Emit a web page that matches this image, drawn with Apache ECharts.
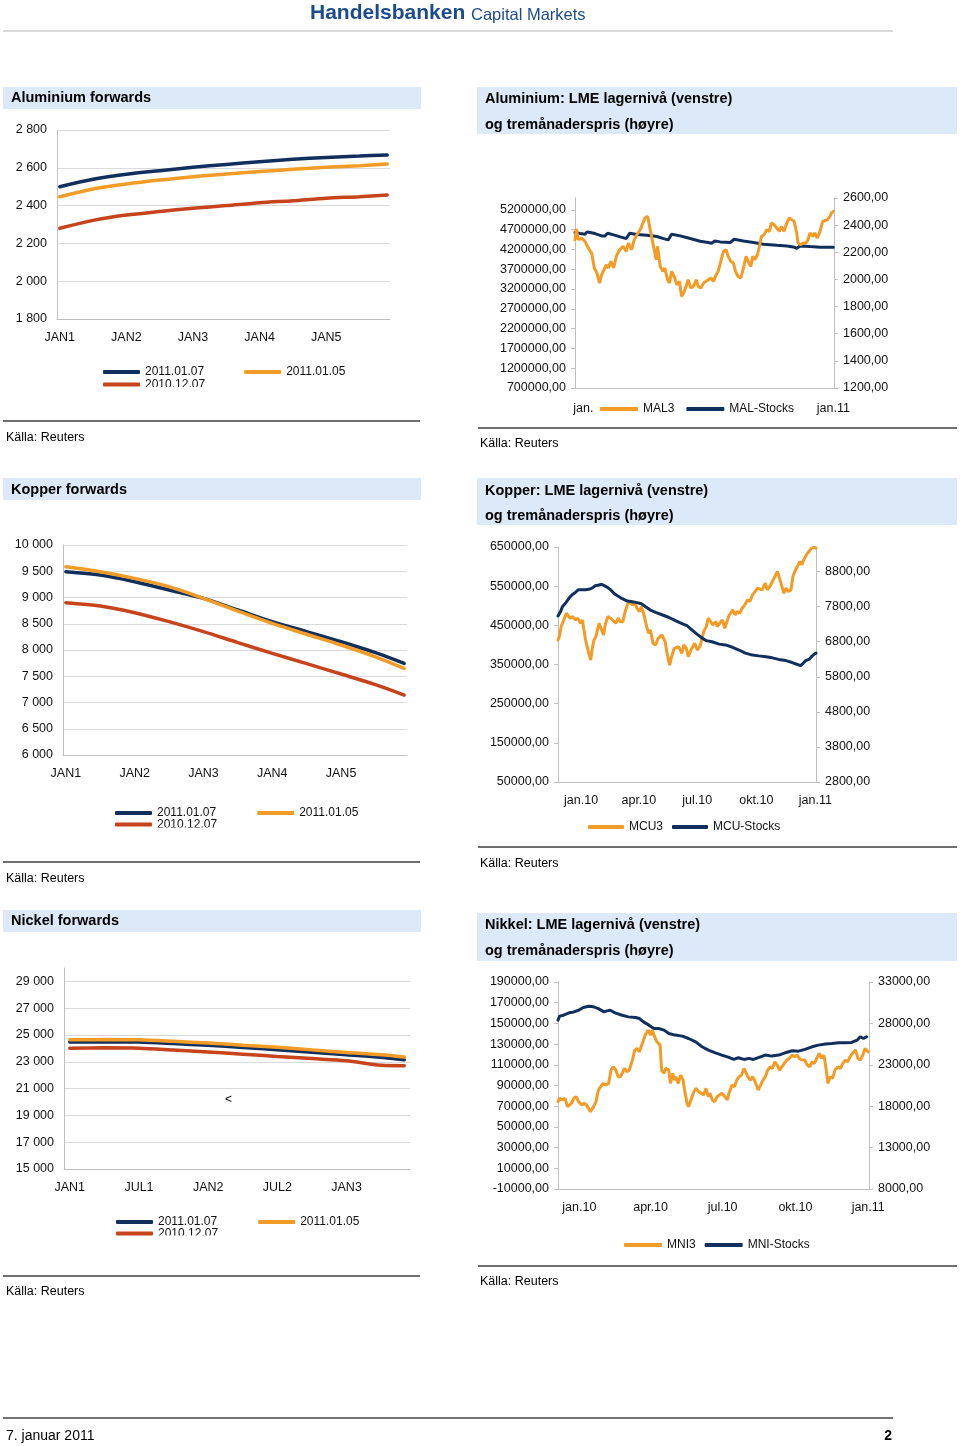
<!DOCTYPE html>
<html><head><meta charset="utf-8">
<script src="https://cdn.jsdelivr.net/npm/echarts@6/dist/echarts.min.js"></script>
<style>html,body{margin:0;padding:0;background:#fff}#c{width:960px;height:1446px}</style>
</head><body><div id="c"></div><script>
// ---------- DATA ----------
// Forward curves: [month index from JAN1, USD/t]
const alFwd0107 = [[0,2500],[6,2539],[12,2566],[18,2585],[24,2603],[30,2618],[36,2632],[42,2645],[48,2655],[54,2662],[59,2668]];
const alFwd0105 = [[0,2447],[6,2488],[12,2514],[18,2535],[24,2553],[30,2567],[36,2580],[42,2592],[48,2603],[54,2611],[59,2620]];
const alFwd1207 = [[0,2280],[6,2322],[12,2350],[18,2369],[24,2386],[30,2400],[36,2415],[42,2426],[48,2439],[54,2447],[59,2456]];

const cuFwd0107 = [[0,9492],[6,9428],[12,9301],[18,9143],[24,8984],[30,8762],[36,8539],[42,8350],[48,8158],[54,7950],[59,7746]];
const cuFwd0105 = [[0,9587],[6,9492],[12,9365],[18,9206],[24,8984],[30,8740],[36,8508],[42,8300],[48,8095],[54,7870],[59,7650]];
const cuFwd1207 = [[0,8901],[6,8838],[12,8711],[18,8540],[24,8349],[30,8140],[36,7936],[42,7740],[48,7542],[54,7340],[59,7142]];

const niFwd0107 = [[0,24470],[3,24490],[6,24470],[9,24360],[12,24230],[15,24070],[18,23900],[21,23720],[24,23530],[27,23340],[29,23150]];
const niFwd0105 = [[0,24640],[3,24660],[6,24640],[9,24530],[12,24400],[15,24240],[18,24080],[21,23890],[24,23700],[27,23520],[29,23350]];
const niFwd1207 = [[0,24020],[3,24040],[6,24020],[9,23880],[12,23730],[15,23570],[18,23400],[21,23240],[24,23080],[27,22740],[29,22710]];

// LME series: [days from 2010-01-01, value]
const mal3 = [[-23,2293],[-21,2371],[-18,2293],[-13,2305],[-8,2280],[-3,2231],[2,2194],[6,2084],[10,2047],[14,1973],[17,2035],[20,2022],[24,2108],[27,2084],[31,2133],[35,2084],[39,2170],[44,2219],[49,2244],[54,2207],[57,2268],[62,2219],[66,2293],[70,2330],[75,2366],[79,2416],[82,2452],[86,2465],[89,2391],[92,2317],[96,2219],[99,2145],[101,2244],[105,2096],[109,2059],[112,2084],[116,1998],[119,1973],[122,2059],[126,2022],[130,1961],[134,1986],[137,1875],[140,1900],[144,1949],[147,1998],[151,1936],[155,1949],[159,1998],[162,1949],[166,1936],[170,1973],[174,1986],[177,1998],[181,2010],[185,1986],[189,2035],[192,2059],[196,2133],[200,2207],[204,2219],[207,2170],[211,2133],[215,2121],[218,2059],[222,2022],[226,2010],[230,2084],[234,2170],[237,2133],[241,2096],[244,2170],[247,2145],[251,2182],[254,2244],[257,2317],[261,2330],[265,2366],[269,2354],[272,2416],[276,2403],[280,2379],[284,2354],[287,2391],[291,2354],[295,2416],[299,2452],[302,2452],[306,2428],[310,2342],[312,2268],[316,2256],[320,2268],[324,2268],[327,2293],[330,2342],[334,2317],[337,2342],[341,2305],[345,2354],[349,2428],[352,2416],[356,2440],[360,2465],[362,2489],[365,2502]];
const malStocks = [[-23,4627000],[-15,4602000],[-8,4585000],[-5,4644000],[0,4627000],[7,4602000],[17,4543000],[22,4543000],[26,4610000],[35,4568000],[45,4517000],[54,4475000],[59,4610000],[70,4577000],[85,4560000],[100,4526000],[110,4475000],[117,4441000],[122,4585000],[135,4543000],[150,4475000],[165,4408000],[177,4374000],[182,4357000],[187,4416000],[195,4391000],[210,4374000],[216,4458000],[230,4416000],[245,4374000],[260,4332000],[280,4306000],[295,4289000],[305,4264000],[310,4230000],[315,4289000],[330,4272000],[345,4256000],[365,4256000]];

const mcu3 = [[-36,6849],[-34,6944],[-31,7230],[-27,7420],[-23,7610],[-20,7658],[-17,7468],[-13,7515],[-9,7420],[-5,7468],[-1,7325],[2,7420],[4,7182],[7,6849],[9,6801],[12,6467],[15,6277],[17,6563],[20,6849],[23,6944],[28,7325],[32,7134],[35,6991],[38,7325],[42,7515],[46,7468],[49,7420],[54,7325],[58,7468],[61,7372],[65,7372],[68,7610],[72,7849],[75,7944],[80,7849],[84,7896],[87,7753],[91,7658],[94,7801],[98,7563],[101,7325],[105,7039],[108,7134],[112,6753],[116,6706],[120,6896],[122,6849],[126,6991],[131,6801],[134,6467],[138,6134],[141,6372],[145,6610],[148,6563],[152,6658],[157,6467],[160,6706],[164,6610],[167,6372],[171,6563],[174,6658],[177,6753],[181,6563],[185,6658],[188,6849],[191,7087],[195,7230],[198,7468],[202,7372],[205,7277],[210,7372],[212,7230],[216,7325],[220,7420],[224,7182],[228,7420],[231,7563],[236,7706],[240,7563],[243,7658],[247,7610],[251,7753],[255,7849],[259,7991],[263,7944],[267,8134],[271,8229],[275,8325],[278,8372],[282,8277],[287,8468],[290,8277],[294,8372],[298,8515],[302,8658],[306,8801],[309,8753],[313,8372],[316,8182],[319,8325],[323,8229],[327,8277],[330,8658],[333,8801],[337,8944],[341,9087],[344,8991],[347,9134],[351,9277],[355,9372],[359,9467],[363,9490],[366,9467]];
const mcuStocks = [[-36,474000],[-32,485000],[-29,498000],[-24,507000],[-19,519000],[-14,528000],[-9,534000],[-4,541000],[2,541000],[7,541000],[12,542000],[17,545000],[22,551000],[28,553000],[32,555000],[35,552000],[41,547000],[46,541000],[51,532000],[56,526000],[64,518000],[72,512000],[80,510000],[87,508000],[94,505000],[100,498000],[108,489000],[116,483000],[126,477000],[137,470000],[147,462000],[158,454000],[165,449000],[173,438000],[181,427000],[189,417000],[195,411000],[204,408000],[215,402000],[225,400000],[236,394000],[246,387000],[256,379000],[267,374000],[277,372000],[288,370000],[298,367000],[308,363000],[319,360000],[329,355000],[337,350000],[342,347000],[346,353000],[350,360000],[355,363000],[359,370000],[363,376000],[366,379000]];

const mni3 = [[-27,18549],[-25,18950],[-22,18749],[-18,18950],[-15,17947],[-13,17746],[-10,18348],[-7,18950],[-4,19151],[-1,18549],[3,18147],[6,18348],[9,18147],[11,18348],[14,17344],[16,17144],[18,17947],[21,18549],[24,19954],[27,20355],[30,20756],[33,20556],[35,20355],[37,20756],[40,22362],[43,22763],[46,22362],[49,21559],[52,21559],[55,22161],[57,22563],[60,22161],[63,22362],[67,23566],[70,24770],[73,24971],[76,24570],[78,25172],[81,25975],[84,26777],[87,27179],[90,26577],[92,27179],[94,26978],[96,26175],[98,25774],[100,25975],[102,25373],[104,22362],[107,21961],[109,22563],[111,22763],[113,22362],[115,20756],[118,21961],[120,21158],[122,21559],[125,20756],[128,21760],[131,21158],[133,19954],[136,18348],[138,17947],[141,18749],[144,19552],[147,20154],[151,19753],[154,19552],[157,19351],[160,20154],[163,19151],[165,19552],[168,18749],[171,18549],[174,19151],[177,19351],[180,19552],[184,19151],[187,18749],[189,19552],[193,20556],[196,20355],[199,21158],[202,21559],[205,21760],[208,22563],[211,21961],[213,21559],[216,21158],[219,21559],[222,20957],[226,19954],[229,20556],[232,21158],[235,21559],[238,22362],[241,22763],[244,22563],[247,23365],[250,22964],[253,22362],[256,22763],[259,23165],[262,23566],[265,23767],[269,24168],[272,23968],[275,24168],[278,23767],[281,23566],[285,23566],[288,22964],[291,22763],[294,23365],[297,23165],[300,23767],[303,24369],[306,23767],[309,24168],[312,22362],[314,20756],[317,21559],[320,21358],[323,22362],[327,22763],[330,22563],[333,23165],[336,23566],[339,23365],[342,23968],[345,24369],[349,24770],[352,23767],[355,23566],[358,24168],[361,24971],[365,24570]];
const mniStocks = [[-27,153100],[-25,157000],[-20,157900],[-13,160200],[-7,161100],[-1,162700],[5,165300],[12,166600],[18,166000],[24,164300],[31,161100],[35,162100],[39,162700],[45,160200],[54,157900],[62,156300],[71,155700],[76,154700],[81,151500],[88,148300],[94,145100],[100,145100],[107,143500],[113,140300],[121,138700],[130,137700],[138,135400],[147,132200],[155,127400],[163,124200],[172,121600],[180,119400],[189,117100],[195,115200],[201,116800],[208,115200],[214,116200],[220,115200],[227,117100],[235,119400],[243,118400],[252,119400],[260,121600],[269,123600],[277,123200],[285,124900],[294,127400],[302,129000],[311,130000],[319,130600],[328,131300],[336,131300],[344,131600],[351,133800],[355,137100],[359,135400],[363,137100]];

// Tick values / labels
const monthNames = ['JAN','FEB','MAR','APR','MAI','JUN','JUL','AUG','SEP','OKT','NOV','DES'];
const niFwdTicks = [15000,17000,19000,21000,23000,25000,27000,29000];
const alStockTicks = [700000,1200000,1700000,2200000,2700000,3200000,3700000,4200000,4700000,5200000];
const alPriceTicks = [1200,1400,1600,1800,2000,2200,2400,2600];
const cuStockTicks = [50000,150000,250000,350000,450000,550000,650000];
const cuPriceTicks = [2800,3800,4800,5800,6800,7800,8800];
const niStockTicks = [-10000,10000,30000,50000,70000,90000,110000,130000,150000,170000,190000];
const niPriceTicks = [8000,13000,18000,23000,28000,33000];
const lmeDayTicks = [0,90,181,273,365];
const lmeDayLabels = ['jan.10','apr.10','jul.10','okt.10','jan.11'];

// ---------- STYLE ----------
const FF = '"Liberation Sans", Arial, sans-serif';
const NAVY = '#112f5d', ORANGE = '#f29b26', RED = '#c6431c';
const AXIS = '#bfbfbf', GRIDC = '#d9d9d9', TXT = '#111';

function monthCats(n){ const a=[]; for(let i=0;i<n;i++) a.push(monthNames[i%12]+(Math.floor(i/12)+1)); return a; }
const spaced = v => String(v).replace(/\B(?=(\d{3})+(?!\d))/g,' ');
const dec2 = v => v.toFixed(2).replace('.',',');

function fwdX(gi, n, every){
  return {type:'category', gridIndex:gi, data:monthCats(n), boundaryGap:true,
    axisLine:{show:true,onZero:false,lineStyle:{color:AXIS}}, axisTick:{show:false},
    axisLabel:{interval:every-1, margin:12, color:TXT, fontSize:12.5}, splitLine:{show:false}};
}
function fwdY(gi, min, max, ticks){
  return {type:'value', gridIndex:gi, min, max,
    axisLine:{show:true,onZero:false,lineStyle:{color:AXIS}}, axisTick:{show:false, customValues:ticks},
    splitLine:{show:true,lineStyle:{color:GRIDC}},
    axisLabel:{customValues:ticks, margin:10, color:TXT, fontSize:12.5, formatter:spaced}};
}
function lmeX(gi, min, max, margin){
  return {type:'value', gridIndex:gi, min, max, splitLine:{show:false},
    axisLine:{show:true,onZero:false,lineStyle:{color:AXIS}}, axisTick:{show:false, customValues:lmeDayTicks},
    axisLabel:{customValues:lmeDayTicks, margin, color:TXT, fontSize:12.5,
      formatter:v=>lmeDayLabels[lmeDayTicks.indexOf(v)]}};
}
function lmeY(gi, pos, min, max, ticks){
  return {type:'value', gridIndex:gi, position:pos, min, max, splitLine:{show:false},
    axisLine:{show:true,onZero:false,lineStyle:{color:AXIS}},
    axisTick:{show:true,length:4,customValues:ticks,lineStyle:{color:AXIS}},
    axisLabel:{customValues:ticks, margin:9, color:TXT, fontSize:12.5, formatter:dec2}};
}
function ln(name, xi, yi, data, color, width, smooth, z){
  return {type:'line', name, xAxisIndex:xi, yAxisIndex:yi, data, symbol:'none', showSymbol:false,
    smooth: smooth ? 0.3 : false,
    lineStyle:{color, width, cap:'round'}, itemStyle:{color}, z, animation:false};
}
function lg(names, left, top, itemWidth, itemGap, extra){
  return Object.assign({data:names, left, top, orient:'horizontal', icon:'roundRect', itemWidth, itemHeight:4,
    itemGap, padding:0, selectedMode:false, textStyle:{fontSize:12, color:TXT, fontFamily:FF}}, extra||{});
}

// ---------- PAGE GRAPHICS ----------
const G = [];
const f = (s, w) => (w?'bold ':'') + s + 'px ' + FF;
function rect(x,y,w,h,fill,z){ G.push({type:'rect', shape:{x,y,width:w,height:h}, style:{fill}, z:z||0, silent:true}); }
function hline(x1,x2,y,stroke,lw){ G.push({type:'line', shape:{x1,y1:y,x2,y2:y}, style:{stroke,lineWidth:lw}, silent:true}); }
function text(x,y,t,font,fill,align){ G.push({type:'text', x, y, style:{text:t, font, fill:fill||'#000', verticalAlign:'middle', align:align||'left'}, silent:true}); }

const BAR = '#dbe9f8';
text(310, 13, 'Handelsbanken', f(21,true), '#1b4b8a');
text(471, 15, 'Capital Markets', f(16.5), '#1b4b8a');
hline(3, 893, 31, '#b5b5b5', 1);

rect(3,87,418,22,BAR); text(11,98,'Aluminium forwards',f(14.5,true));
rect(477,87,480,47,BAR); text(485,99,'Aluminium: LME lagernivå (venstre)',f(14.5,true)); text(485,125,'og tremånaderspris (høyre)',f(14.5,true));
rect(3,478,418,22,BAR); text(11,490,'Kopper forwards',f(14.5,true));
rect(477,478,480,47,BAR); text(485,491,'Kopper: LME lagernivå (venstre)',f(14.5,true)); text(485,516,'og tremånaderspris (høyre)',f(14.5,true));
rect(3,910,418,22,BAR); text(11,921,'Nickel forwards',f(14.5,true));
rect(477,913,480,48,BAR); text(485,925,'Nikkel: LME lagernivå (venstre)',f(14.5,true)); text(485,951,'og tremånaderspris (høyre)',f(14.5,true));

const SRC = 'Källa: Reuters', LC = '#6e6e6e';
hline(3,420,421,LC,2); text(6,438,SRC,f(12.5));
hline(478,957,428,LC,2); text(480,444,SRC,f(12.5));
hline(3,420,862,LC,2); text(6,879,SRC,f(12.5));
hline(478,957,847,LC,2); text(480,864,SRC,f(12.5));
hline(3,420,1276,LC,2); text(6,1292,SRC,f(12.5));
hline(478,957,1266,LC,2); text(480,1282,SRC,f(12.5));

text(225,1100,'<',f(12));
hline(3,893,1418,'#444',1.5);
text(6,1436,'7. januar 2011',f(14));
text(892,1436,'2',f(14,true),'#000','right');

// white covers clipping the text of the second legend row
rect(141,387,240,14,'#fff',100);
rect(153,827.5,240,14,'#fff',100);
rect(155,1235.5,240,14,'#fff',100);

// ---------- OPTION ----------
const option = {
  animation:false,
  textStyle:{fontFamily:FF},
  grid:[
    {left:57, top:130, width:333, height:189},
    {left:575, top:198, width:259, height:190},
    {left:63, top:545, width:344, height:210},
    {left:558, top:547, width:258, height:235},
    {left:64, top:968, width:346, height:201},
    {left:558, top:982, width:311, height:207}
  ],
  xAxis:[
    fwdX(0,60,12),
    lmeX(1,-23,366,14),
    fwdX(2,60,12),
    lmeX(3,-36,366,12),
    fwdX(4,30,6),
    lmeX(5,-27,366,12)
  ],
  yAxis:[
    Object.assign(fwdY(0,1800,2800,null),{interval:200, axisTick:{show:false}, axisLabel:{margin:10,color:TXT,fontSize:12.5,formatter:spaced}}),
    lmeY(1,'left',700000,5500000,alStockTicks),
    lmeY(1,'right',1200,2600,alPriceTicks),
    Object.assign(fwdY(2,6000,10000,null),{interval:500, axisTick:{show:false}, axisLabel:{margin:10,color:TXT,fontSize:12.5,formatter:spaced}}),
    lmeY(3,'left',50000,650000,cuStockTicks),
    lmeY(3,'right',2800,9500,cuPriceTicks),
    fwdY(4,15000,30000,niFwdTicks),
    lmeY(5,'left',-10000,190000,niStockTicks),
    lmeY(5,'right',8000,33000,niPriceTicks)
  ],
  legend:[
    lg(['2011.01.07','2011.01.05'],103,366,37,40),
    lg(['2010.12.07'],103,378.5,37,40),
    lg(['MAL3','MAL-Stocks'],594,397,38,12,{padding:[6,4,6,6],backgroundColor:'#fff',z:10}),
    lg(['2011.01.07','2011.01.05'],115,807,37,41),
    lg(['2010.12.07'],115,818.5,37,41),
    lg(['MCU3','MCU-Stocks'],588,821,36,9),
    lg(['2011.01.07','2011.01.05'],116,1216,37,41),
    lg(['2010.12.07'],116,1227.5,37,41),
    lg(['MNI3','MNI-Stocks'],624,1239,38,9)
  ],
  graphic:{elements:G},
  series:[
    ln('2010.12.07',0,0,alFwd1207,RED,3.5,true,2),
    ln('2011.01.05',0,0,alFwd0105,ORANGE,3.5,true,3),
    ln('2011.01.07',0,0,alFwd0107,NAVY,3.5,true,4),
    ln('MAL-Stocks',1,1,malStocks,NAVY,3,false,2),
    ln('MAL3',1,2,mal3,ORANGE,3,false,3),
    ln('2010.12.07',2,3,cuFwd1207,RED,3.5,true,2),
    ln('2011.01.07',2,3,cuFwd0107,NAVY,3.5,true,3),
    ln('2011.01.05',2,3,cuFwd0105,ORANGE,3.5,true,4),
    ln('MCU3',3,5,mcu3,ORANGE,3,false,2),
    ln('MCU-Stocks',3,4,mcuStocks,NAVY,3,false,3),
    ln('2010.12.07',4,6,niFwd1207,RED,3.5,true,2),
    ln('2011.01.07',4,6,niFwd0107,NAVY,3.5,true,3),
    ln('2011.01.05',4,6,niFwd0105,ORANGE,3.5,true,4),
    ln('MNI-Stocks',5,7,mniStocks,NAVY,3,false,2),
    ln('MNI3',5,8,mni3,ORANGE,3,false,3)
  ]
};
const chart = echarts.init(document.getElementById('c'), null, {renderer:'canvas'});
chart.setOption(option);
</script></body></html>
